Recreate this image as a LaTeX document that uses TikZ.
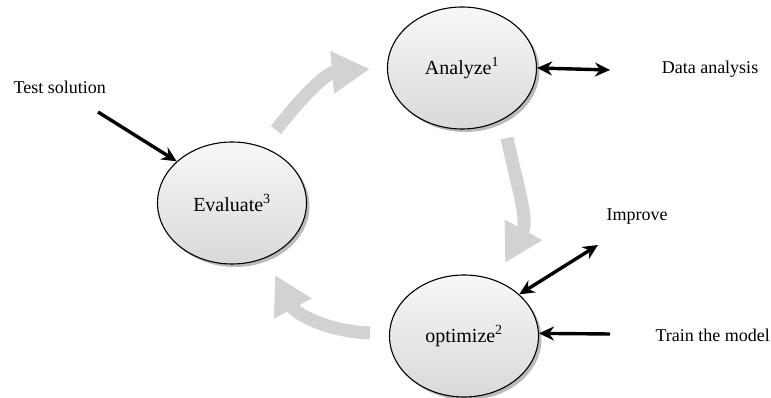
\documentclass[tikz,border=0pt]{standalone}
\usepackage{fontspec}
\setmainfont{Liberation Serif}
\usetikzlibrary{shapes.geometric, shadows, arrows.meta}

\begin{document}
\begin{tikzpicture}[x=1pt, y=1pt, >={Stealth[length=15pt, width=14pt]},
    phase/.style={ellipse, draw, line width=1.1pt, minimum width=149pt, minimum height=122pt,
        top color=gray!6, bottom color=gray!30,
        drop shadow={fill=gray!90, opacity=0.6, shadow xshift=3pt, shadow yshift=-3pt},
        font=\rmfamily\fontsize{20}{24}\selectfont},
    tag/.style={font=\rmfamily\fontsize{18}{22}\selectfont},
    link/.style={line width=3.4pt, ->},
    duplex/.style={line width=3.4pt, <->},
    cycle/.style={line width=13pt, draw=gray!35, -{Triangle[length=38pt, width=40pt]}}]
    \useasboundingbox (0,0) rectangle (771,398);

    % 1. 三个阶段
    \node[phase] (anal) at (462,330) {Analyze\textsuperscript{1}};
    \node[phase] (opt)  at (464,62)  {optimize\textsuperscript{2}};
    \node[phase] (eval) at (232,195) {Evaluate\textsuperscript{3}};

    % 2. 循环箭头 (灰色)
    \draw[cycle] (276,268) to[out=52, in=185] (370,329);
    \draw[cycle] (507,260) to[out=-78, in=61] (505,135);
    \draw[cycle] (370,65) to[out=178, in=-62] (275,123);

    % 3. 外部标签
    \node[tag, anchor=west] (test)  at (10,311)  {Test solution};
    \node[tag] (data)  at (710,329) {Data analysis};
    \node[tag] (imp)   at (637,181) {Improve};
    \node[tag, anchor=west] (train) at (652,63) {Train the model};

    % 4. 黑色箭头
    \coordinate (testend)  at (98,286);
    \coordinate (dataend)  at (610,328);
    \coordinate (impend)   at (598,153);
    \coordinate (trainend) at (610,64);
    \draw[link] (testend) -- (eval.143);
    \draw[duplex] (anal.east) -- (dataend);
    \draw[duplex] (opt.37) -- (impend);
    \draw[link] (trainend) -- (opt.2);
\end{tikzpicture}
\end{document}
